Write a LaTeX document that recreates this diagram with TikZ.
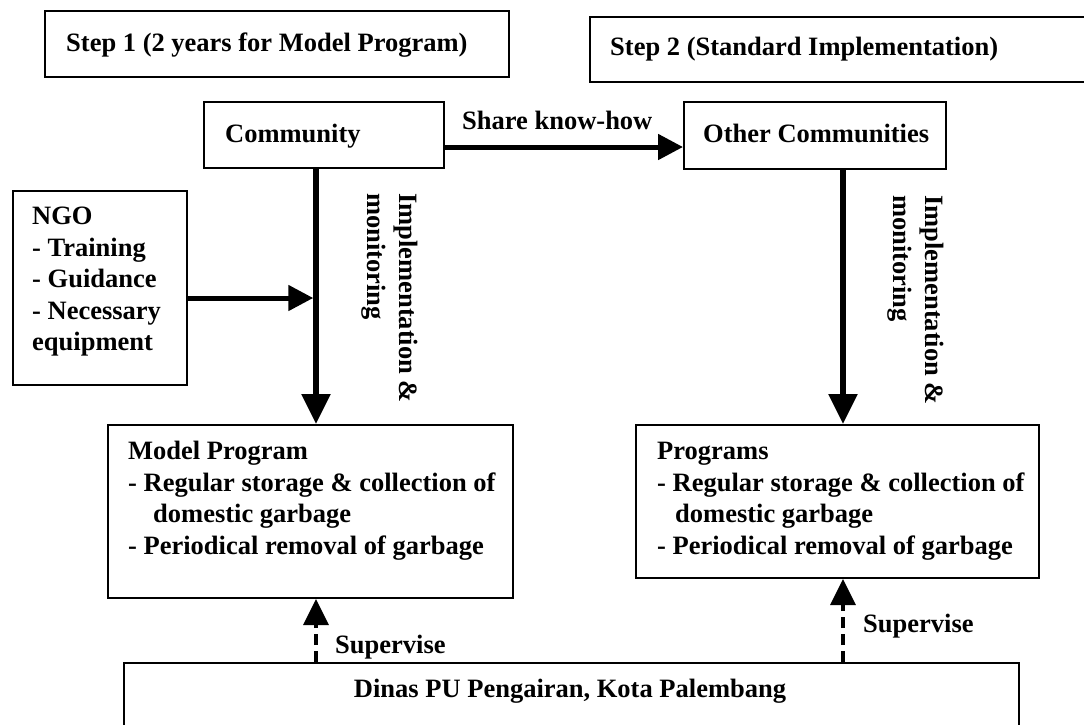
\documentclass[tikz,border=0pt]{standalone}
\usepackage{fontspec}
\setmainfont{Liberation Serif}
\usetikzlibrary{arrows.meta,calc}
\tikzset{
  box/.style={draw, line width=2pt, inner sep=0pt, anchor=north west},
  txt/.style={inner sep=0pt, font=\bfseries\fontsize{26.5pt}{31.5pt}\selectfont, align=left},
  bigarrow/.style={line width=5.5pt, -{Triangle[length=30pt,width=28pt]}},
  harrow/.style={line width=5pt, -{Triangle[length=25pt,width=25pt]}},
  dasharrow/.style={line width=3.5pt, dash pattern=on 11pt off 6pt, -{Triangle[length=26pt,width=25pt]}},
}
\begin{document}
\begin{tikzpicture}[x=1pt,y=-1pt]
\useasboundingbox (0,0) rectangle (1084,724);
\clip (0,0) rectangle (1084,724);
% boxes
\node[box, minimum width=464pt, minimum height=66pt] (step1) at (44,10) {};
\node[box, minimum width=520pt, minimum height=65pt] (step2) at (589,16) {};
\node[box, minimum width=240pt, minimum height=66pt] (comm) at (203,101) {};
\node[box, minimum width=262pt, minimum height=67pt] (other) at (683,101) {};
\node[box, minimum width=174pt, minimum height=194pt] (ngo) at (12,190) {};
\node[box, minimum width=405pt, minimum height=173pt] (model) at (107,424) {};
\node[box, minimum width=403pt, minimum height=153pt] (progs) at (635,424) {};
\node[box, minimum width=895pt, minimum height=100pt] (dinas) at (123,662) {};
% box texts
\node[txt, anchor=base west] (step1t) at (66,51) {Step 1 (2 years for Model Program)};
\node[txt, anchor=base west] (step2t) at (610,55) {Step 2 (Standard Implementation)};
\node[txt, anchor=base west] (commt) at (225,142) {Community};
\node[txt, anchor=base west] (othert) at (703,142) {Other Communities};
\node[txt, anchor=north west] (ngot) at (32,207) {NGO\\- Training\\- Guidance\\- Necessary\\equipment};
\node[txt, anchor=north west] (modelt) at (128,441) {Model Program\\- Regular storage \& collection of\\\hspace*{25pt}domestic garbage\\- Periodical removal of garbage};
\node[txt, anchor=north west] (progst) at (657,442) {Programs\\- Regular storage \& collection of\\\hspace*{18pt}domestic garbage\\- Periodical removal of garbage};
\node[txt, anchor=base] (dinast) at (570,697) {Dinas PU Pengairan, Kota Palembang};
% helper coordinates
\coordinate (xl) at (316,0);
\coordinate (xr) at (843,0);
\coordinate (yn) at (0,298);
\coordinate (ys) at (0,147);
% connectors
\draw[bigarrow] (comm.south -| xl) -- (model.north -| xl);
\draw[bigarrow] (other.south -| xr) -- (progs.north -| xr);
\draw[harrow, shorten >=2.75pt] (ngo.east |- yn) -- (xl |- yn);
\draw[harrow] (comm.east |- ys) -- (other.west |- ys);
\draw[dasharrow] (dinas.north -| xl) -- (model.south -| xl);
\draw[dasharrow] (dinas.north -| xr) -- (progs.south -| xr);
% labels
\node[txt, anchor=base west] (share) at (462,129) {Share know-how};
\node[txt, anchor=north west, rotate=-90] (implL) at (418,193) {Implementation \&\\monitoring};
\node[txt, anchor=north west, rotate=-90] (implR) at (944,195) {Implementation \&\\monitoring};
\node[txt, anchor=base west] (supl) at (335,653) {Supervise};
\node[txt, anchor=base west] (supr) at (863,632) {Supervise};
\end{tikzpicture}
\end{document}
